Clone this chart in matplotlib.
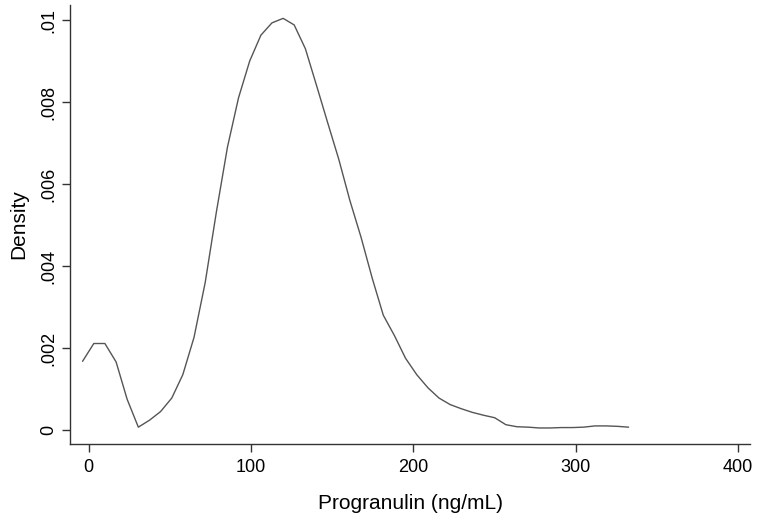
import matplotlib
matplotlib.use("Agg")
import matplotlib.pyplot as plt
from matplotlib.ticker import FixedLocator

plt.rcParams['font.family'] = ['Liberation Sans', 'DejaVu Sans']

progranulin = [-3.7, 3.16, 10.0, 16.9, 23.7, 30.6, 37.5, 44.3, 51.2, 58.0,
               64.9, 71.8, 78.6, 85.5, 92.3, 99.2, 106.1, 112.9, 119.8, 126.6,
               133.5, 140.4, 147.2, 154.1, 160.9, 167.8, 174.7, 181.5, 188.4, 195.2,
               202.1, 209.0, 215.8, 222.7, 229.5, 236.4, 243.3, 250.1, 257.0, 263.8,
               270.7, 277.6, 284.4, 291.3, 298.1, 305.0, 311.9, 318.7, 325.6, 332.5]
density = [0.00168, 0.00211, 0.00211, 0.00166, 0.00075, 0.00007, 0.00024, 0.00045, 0.00078, 0.00135,
           0.00226, 0.0036, 0.0053, 0.0069, 0.0081, 0.0090, 0.00963, 0.00993, 0.01004, 0.00988,
           0.0093, 0.0084, 0.0075, 0.0066, 0.0056, 0.0047, 0.0037, 0.0028, 0.0023, 0.00175,
           0.00135, 0.00103, 0.00078, 0.00062, 0.00052, 0.00043, 0.00036, 0.00030, 0.00013, 0.00008,
           0.00007, 0.00005, 0.00005, 0.00006, 0.00006, 0.00007, 0.00010, 0.00010, 0.00009, 0.00007]

x_ticks = [0, 100, 200, 300, 400]
x_tick_labels = ["0", "100", "200", "300", "400"]
y_ticks = [0, 0.002, 0.004, 0.006, 0.008, 0.01]
y_tick_labels = ["0", ".002", ".004", ".006", ".008", ".01"]

fig = plt.figure(figsize=(7.58, 5.19), dpi=100)
ax = fig.add_axes([70/758, 1-444/519, (750-70)/758, (444-5)/519])
ax.plot(progranulin, density, color='#555555', lw=1.0)

ax.set_xlim(-11.5, 407.4)
ax.set_ylim(-0.000341, 0.010366)
ax.xaxis.set_major_locator(FixedLocator(x_ticks))
ax.set_xticklabels(x_tick_labels)
ax.yaxis.set_major_locator(FixedLocator(y_ticks))
ax.set_yticklabels(y_tick_labels, rotation=90, va='center')

for s in ['top', 'right']:
    ax.spines[s].set_visible(False)
for s in ['left', 'bottom']:
    ax.spines[s].set_color('#333333')
    ax.spines[s].set_linewidth(1.0)
ax.tick_params(axis='both', colors='#333333', labelcolor='black', labelsize=13, length=6, width=1)
ax.tick_params(axis='y', pad=3)
ax.tick_params(axis='x', pad=5)

ax.set_xlabel("Progranulin (ng/mL)", fontsize=15, labelpad=13)
ax.set_ylabel("Density", fontsize=15, labelpad=9)

fig.savefig("out.png", dpi=100)
